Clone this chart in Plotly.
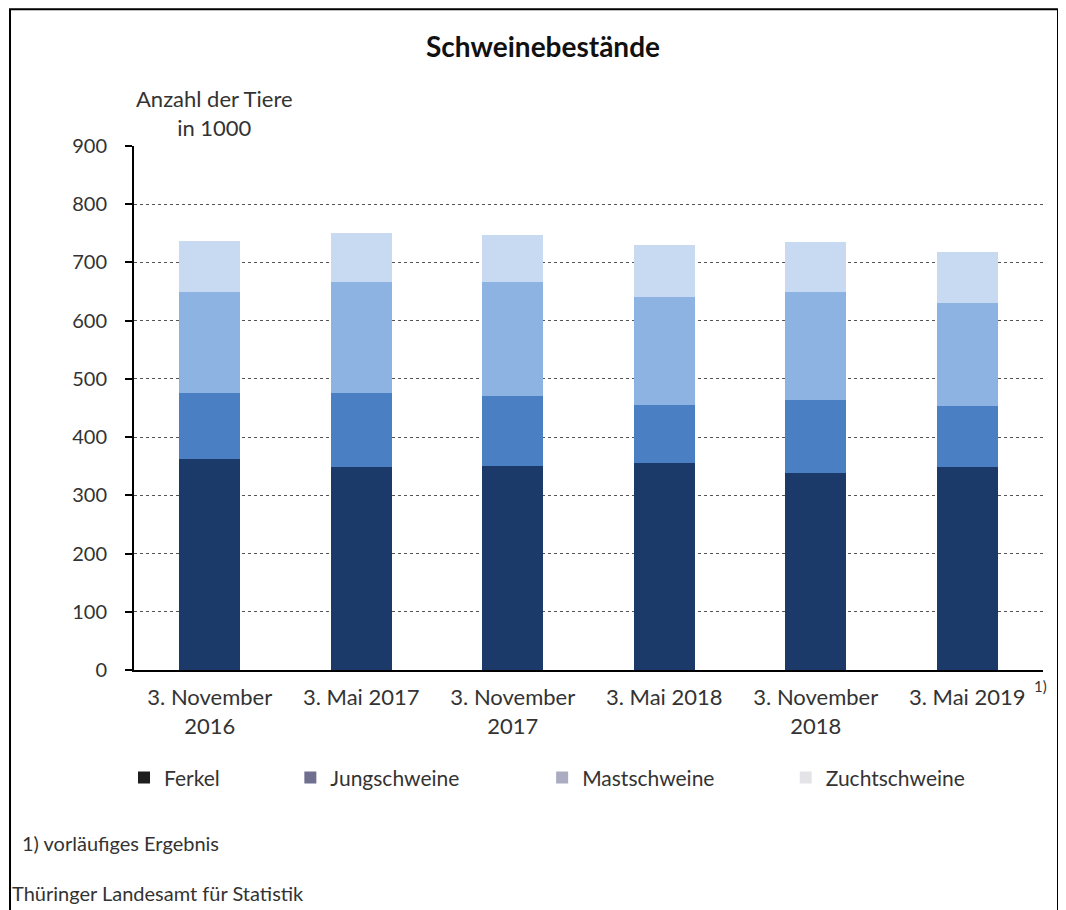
import plotly.graph_objects as go

categories = ["3. November 2016", "3. Mai 2017", "3. November 2017",
              "3. Mai 2018", "3. November 2018", "3. Mai 2019"]
tick_labels = ["3. November<br>2016", "3. Mai 2017", "3. November<br>2017",
               "3. Mai 2018", "3. November<br>2018", "3. Mai 2019"]

ferkel = [362, 349, 350, 355, 338, 349]
jungschweine = [114, 127, 121, 100, 126, 104]
mastschweine = [173, 190, 195, 186, 185, 177]
zuchtschweine = [87, 85, 81, 89, 86, 88]

series_names = ["Ferkel", "Jungschweine", "Mastschweine", "Zuchtschweine"]
series_values = [ferkel, jungschweine, mastschweine, zuchtschweine]
bar_colors = ["#1c3a69", "#4a80c3", "#8db3e2", "#c8daf2"]
legend_colors = ["#1e1e1e", "#6f6f8f", "#ababc2", "#e4e4e8"]
legend_ids = ["legend", "legend2", "legend3", "legend4"]
legend_x = [-0.011, 0.172, 0.449, 0.717]

FONT = "Lato"
TXT = "#333333"

fig = go.Figure()
for name, vals, col in zip(series_names, series_values, bar_colors):
    fig.add_trace(go.Bar(x=categories, y=vals, name=name, marker_color=col,
                         marker_line_width=0, showlegend=False))
for name, col, lid in zip(series_names, legend_colors, legend_ids):
    fig.add_trace(go.Bar(x=[None], y=[None], name=name, marker_color=col,
                         marker_line_width=0, showlegend=True, legend=lid))

legend_common = dict(orientation="h", yanchor="middle", xanchor="left",
                     y=-0.206, font=dict(family=FONT, size=21, color=TXT),
                     bgcolor="rgba(0,0,0,0)", itemwidth=30)

layout_legends = {}
for lid, lx in zip(legend_ids, legend_x):
    layout_legends[lid] = dict(legend_common, x=lx)

# page body has an 8px margin, so the figure is offset by (8, 8)
fig.update_layout(
    width=1058, height=902,
    margin=dict(l=126, r=23, t=138, b=240),
    paper_bgcolor="white", plot_bgcolor="white",
    barmode="stack", bargap=0.6,
    title=dict(text="<b>Schweinebestände</b>", x=0.5057, xanchor="center",
               y=0.957, yanchor="middle",
               font=dict(family=FONT, size=28, color="#111111")),
    font=dict(family=FONT, size=21, color=TXT),
    xaxis=dict(type="category", categoryorder="array", categoryarray=categories,
               tickmode="array", tickvals=categories, ticktext=tick_labels,
               showline=True, linecolor="black", linewidth=2,
               ticks="", showgrid=False, range=[-0.5, 5.5],
               ticklabelstandoff=7,
               tickfont=dict(family=FONT, size=22, color=TXT)),
    yaxis=dict(range=[0, 900], tickmode="array", tickvals=list(range(0, 901, 100)),
               showline=True, linecolor="black", linewidth=2,
               ticks="outside", ticklen=7, tickcolor="black", tickwidth=2,
               showgrid=True, gridcolor="#555555", gridwidth=1, griddash="dot",
               zeroline=False, ticklabelstandoff=14,
               tickfont=dict(family=FONT, size=20, color=TXT)),
    **layout_legends,
)

fig.add_annotation(text="Anzahl der Tiere<br>in 1000", xref="paper", yref="paper",
                   x=0.089, y=1.063, xanchor="center", yanchor="middle",
                   showarrow=False, font=dict(family=FONT, size=22, color=TXT))
fig.add_annotation(text="1)", xref="paper", yref="paper",
                   x=0.997, y=-0.03, xanchor="center", yanchor="middle",
                   showarrow=False, font=dict(family=FONT, size=15, color=TXT))
fig.add_annotation(text="1) vorläufiges Ergebnis", xref="paper", yref="paper",
                   x=-0.125, y=-0.33, xanchor="left", yanchor="middle",
                   showarrow=False, font=dict(family=FONT, size=20, color=TXT))
fig.add_annotation(text="Thüringer Landesamt für Statistik", xref="paper", yref="paper",
                   x=-0.136, y=-0.4256, xanchor="left", yanchor="middle",
                   showarrow=False, font=dict(family=FONT, size=20, color=TXT))

fig.add_shape(type="rect", xref="paper", yref="paper",
              x0=-0.1364, x1=1.0165, y0=-0.48, y1=1.261,
              line=dict(color="black", width=2), fillcolor="rgba(0,0,0,0)", layer="below")

fig.write_html("out.html")
